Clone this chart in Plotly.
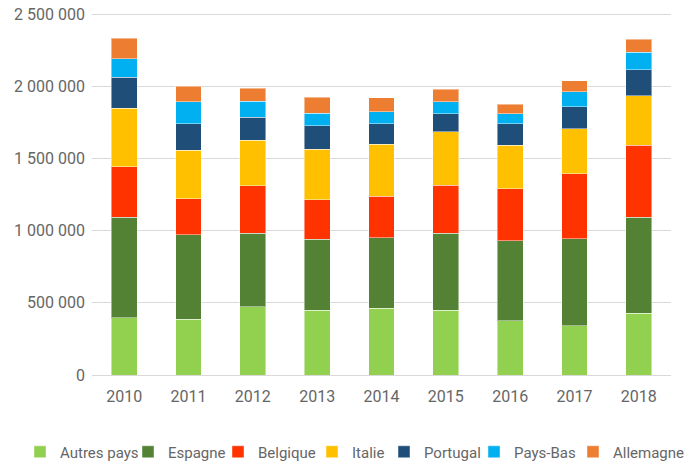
import plotly.graph_objects as go

years = ["2010", "2011", "2012", "2013", "2014", "2015", "2016", "2017", "2018"]

autres_pays = [397000, 386000, 471000, 448000, 464000, 448000, 376000, 341000, 429000]
espagne = [697000, 584000, 510000, 492000, 487000, 533000, 554000, 602000, 663000]
belgique = [348000, 251000, 330000, 274000, 287000, 332000, 360000, 450000, 499000]
italie = [404000, 335000, 314000, 349000, 360000, 371000, 301000, 312000, 343000]
portugal = [217000, 184000, 161000, 163000, 143000, 125000, 150000, 152000, 180000]
pays_bas = [127000, 152000, 109000, 86000, 83000, 83000, 69000, 104000, 120000]
allemagne = [143000, 109000, 90000, 111000, 95000, 88000, 65000, 76000, 90000]

y_ticks = [0, 500000, 1000000, 1500000, 2000000, 2500000]

series = [
    ("Autres pays", autres_pays, "#92D050"),
    ("Espagne", espagne, "#548235"),
    ("Belgique", belgique, "#FF3300"),
    ("Italie", italie, "#FFC000"),
    ("Portugal", portugal, "#1F4E79"),
    ("Pays-Bas", pays_bas, "#00B0F0"),
    ("Allemagne", allemagne, "#ED7D31"),
]

# figure geometry (body margin removed so the figure fills the window)
W, H = 692, 464
EXTRA_PX = 2  # a little headroom so the top gridline is drawn
ML, MR, MT, MB = 92, 21, 14 - EXTRA_PX, 89
PW = W - ML - MR
PH = H - MT - MB
y_top = 2500000 * (PH / (PH - EXTRA_PX))

# legend entry left edges (page pixels) to spread entries like the reference
legend_left_px = [20, 128, 218, 312, 384, 474, 573]
legend_mid_px = 452

fig = go.Figure()
layout_legends = {}
for i, (name, vals, col) in enumerate(series):
    key = "legend" if i == 0 else f"legend{i+1}"
    fig.add_trace(go.Bar(
        x=years, y=vals, name=name, legend=key,
        marker=dict(color=col, line=dict(color="rgba(255,255,255,0.45)", width=1)),
    ))
    lx = (legend_left_px[i] - ML) / PW
    ly = (PH + MT - legend_mid_px) / PH
    layout_legends[key] = dict(
        orientation="h", x=lx, xanchor="left", y=ly, yanchor="middle",
        font=dict(size=15, color="#666666"), itemwidth=30,
        bgcolor="rgba(0,0,0,0)", borderwidth=0,
    )

font_family = "Roboto, 'DejaVu Sans', sans-serif"
fig.update_layout(
    barmode="stack",
    bargap=0.6,
    width=W, height=H,
    margin=dict(l=ML, r=MR, t=MT, b=MB, autoexpand=False),
    plot_bgcolor="white", paper_bgcolor="white",
    separators=", ",
    font=dict(family=font_family, size=16, color="#666666"),
    xaxis=dict(showgrid=False, showline=False, ticks="", automargin=False,
               ticklabelstandoff=10, tickfont=dict(size=16, color="#666666")),
    yaxis=dict(range=[0, y_top], tickvals=y_ticks,
               tickformat=",d", showgrid=True, gridcolor="#d9d9d9", gridwidth=1,
               zeroline=True, zerolinecolor="#d9d9d9", zerolinewidth=1, automargin=False,
               ticklabeloverflow="allow",
               ticks="", ticklabelstandoff=6, tickfont=dict(size=16, color="#666666")),
    showlegend=True,
    **layout_legends,
)

fig.write_html("out.html", config={"displayModeBar": False},
               post_script="document.body.style.margin='0';")
